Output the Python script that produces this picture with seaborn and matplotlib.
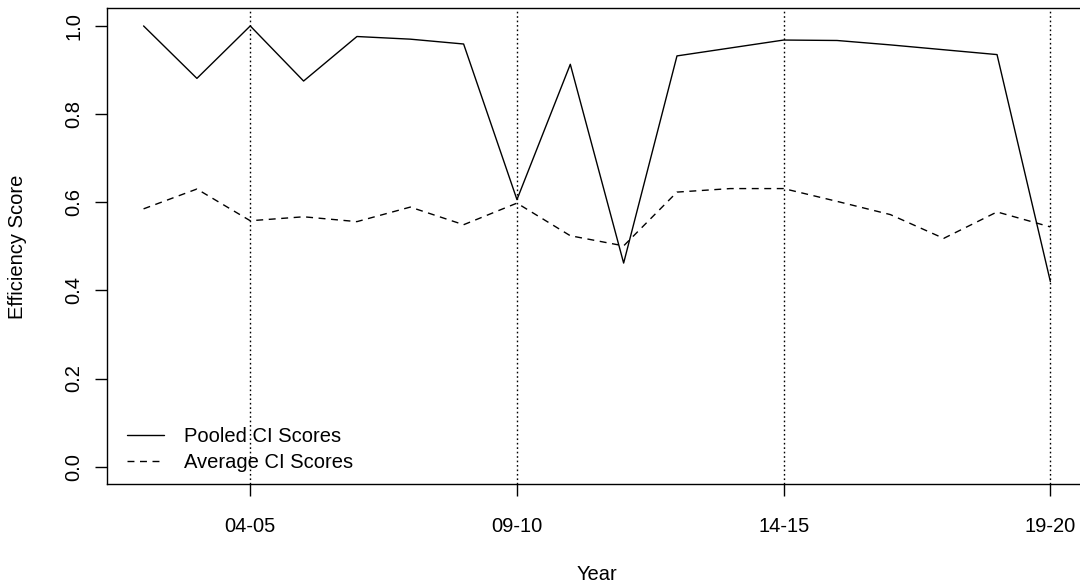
import numpy as np
import pandas as pd
import matplotlib
matplotlib.use("Agg")
import matplotlib.pyplot as plt
import seaborn as sns

# Financial years covered by the series
years = ["02-03", "03-04", "04-05", "05-06", "06-07", "07-08", "08-09", "09-10",
         "10-11", "11-12", "12-13", "13-14", "14-15", "15-16", "16-17", "17-18",
         "18-19", "19-20"]

# Efficiency scores per year
pooled = [1.000, 0.881, 1.000, 0.875, 0.976, 0.970, 0.959, 0.606, 0.913, 0.462,
          0.932, 0.950, 0.968, 0.967, 0.957, 0.946, 0.935, 0.420]
average = [0.585, 0.630, 0.558, 0.567, 0.556, 0.589, 0.549, 0.598, 0.524, 0.501,
           0.623, 0.631, 0.631, 0.602, 0.572, 0.518, 0.578, 0.544]

series_names = ["Pooled CI Scores", "Average CI Scores"]
tick_years = ["04-05", "09-10", "14-15", "19-20"]
y_ticks = [0.0, 0.2, 0.4, 0.6, 0.8, 1.0]

sns.set_style("ticks")
plt.rcParams["font.family"] = ["Liberation Sans", "DejaVu Sans"]
plt.rcParams["font.size"] = 14.5
plt.rcParams["text.color"] = "black"
plt.rcParams["axes.labelcolor"] = "black"
plt.rcParams["xtick.color"] = "black"
plt.rcParams["ytick.color"] = "black"

df = pd.DataFrame({
    "idx": np.arange(len(years)),
    series_names[0]: pooled,
    series_names[1]: average,
}).melt(id_vars="idx", var_name="series", value_name="score")

fig = plt.figure(figsize=(10.8, 5.85), dpi=100)
ax = fig.add_axes([0.09935, 0.1721, 0.9068, 0.8137])

sns.lineplot(data=df, x="idx", y="score", style="series", style_order=series_names,
             dashes={series_names[0]: "", series_names[1]: (5, 4)},
             color="black", linewidth=1.0, ax=ax)

# Dotted guides at the labelled years
tick_idx = [years.index(y) for y in tick_years]
for i in tick_idx:
    ax.axvline(i, color="black", linewidth=1.0, linestyle=(0, (1.2, 2.0)), zorder=1)

n = len(years)
pad_x = 0.04 * (n - 1)
ax.set_xlim(-pad_x, n - 1 + pad_x)
ax.set_ylim(-0.04, 1.04)

ax.set_xticks(tick_idx)
ax.set_xticklabels(tick_years)
ax.set_yticks(y_ticks)
ax.set_yticklabels([f"{v:.1f}" for v in y_ticks])

for s in ax.spines.values():
    s.set_visible(True)
    s.set_linewidth(1.0)
    s.set_color("black")

ax.tick_params(axis="both", direction="out", length=8.6, width=1.0, labelsize=14.5)
ax.tick_params(axis="x", pad=14.8)
ax.tick_params(axis="y", pad=8.6, labelrotation=90)
for lbl in ax.get_yticklabels():
    lbl.set_va("center")

ax.set_xlabel("Year", fontsize=14.5)
ax.set_ylabel("Efficiency Score", fontsize=14.5)
ax.xaxis.set_label_coords(0.5, -0.170)
ax.yaxis.set_label_coords(-0.0815, 0.5)

handles, labels = ax.get_legend_handles_labels()
ax.legend(handles, labels, loc="upper left", bbox_to_anchor=(0.0198, 0.1204),
          frameon=False, handlelength=1.85, handletextpad=1.0, borderpad=0,
          borderaxespad=0, labelspacing=0.34, fontsize=14.5)

fig.savefig("out.png", dpi=100)
